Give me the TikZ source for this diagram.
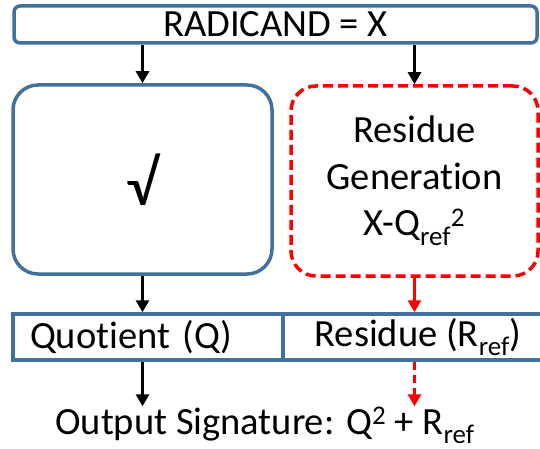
\documentclass[tikz,border=0pt]{standalone}
\usepackage{fontspec}
\setmainfont{Carlito}[Ligatures=CommonOff]
\usetikzlibrary{arrows.meta}

\definecolor{boxblue}{RGB}{65,113,156}

\begin{document}
\begin{tikzpicture}[x=1pt,y=-1pt,>={Triangle[width=13pt,length=12pt]},
  every node/.style={font=\fontsize{38.5}{46.5}\selectfont},
  blk/.style={draw=boxblue,line width=3.5pt,fill=white},
  resblk/.style={draw=red,line width=3.5pt,dash pattern=on 10pt off 5pt,rounded corners=25pt},
  flow/.style={->,line width=2.7pt}]
  \useasboundingbox (0,0) rectangle (540,449);
  % input and the two stages
  \node[blk,rounded corners=6pt,minimum width=523pt,minimum height=37pt] (radicand) at (275.5,24.5) {RADICAND = X};
  \node[blk,rounded corners=25pt,minimum width=259pt,minimum height=189pt,font=\fontsize{64}{64}\selectfont] (sqrtbox) at (142.5,179.5) {√};
  \node[resblk,minimum width=247pt,minimum height=190pt,align=center] (resgen) at (414.5,181) {Residue\\Generation\\X-Q\textsubscript{ref}\textsuperscript{2}};
  % result registers
  \node[blk,minimum width=270pt,minimum height=46pt,text width=236pt,inner xsep=17pt,align=left] (quot) at (148,337) {Quotient (Q)};
  \node[blk,minimum width=270pt,minimum height=46pt] (resid) at (418,337) {Residue (R\textsubscript{ref})};
  \node[anchor=base,inner ysep=1pt] (output) at (265,434) {Output Signature: Q\textsuperscript{2} + R\textsubscript{ref}};
  % connections
  \draw[flow] (sqrtbox.north |- radicand.south) -- (sqrtbox.north);
  \draw[flow] (resgen.north |- radicand.south) -- (resgen.north);
  \draw[flow] (sqrtbox.south) -- (sqrtbox.south |- quot.north);
  \draw[flow,red] (resgen.south) -- (resgen.south |- resid.north);
  \draw[flow] (sqrtbox.south |- quot.south) -- (sqrtbox.south |- output.north);
  \draw[flow,red,dash pattern=on 8pt off 5pt] (resgen.south |- resid.south) -- (resgen.south |- output.north);
\end{tikzpicture}
\end{document}
